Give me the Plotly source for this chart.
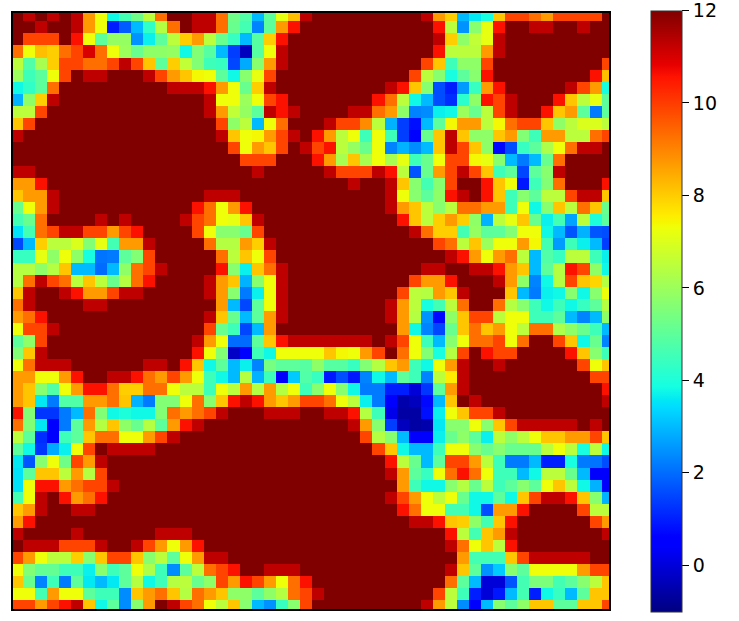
import numpy as np
import plotly.graph_objects as go

# columns 0-24 of every row
left_half = [
    [12,11.3,12,11.3,12,11.3,8.7,7.3,3.8,4.6,5.3,6.5,9.3,12,12,11.3,11.3,9.3,5.3,4.8,3,5,7.2,8.2,11.3],
    [12,12,11.3,12,12,11.3,8.7,7.3,1,1.8,3,4.3,6.4,9.3,12,11.3,11.3,9.3,5.2,4.6,2.3,5,8.7,10.6,12],
    [12,9.9,9.9,9.9,12,10.6,7.3,5,5.9,5.9,2.5,3.7,5,6.5,8,8.7,6.5,5.2,4.4,3,4.9,8,10.6,12,12],
    [9.3,7.3,8.2,8,9.3,9.9,11,9.3,7.3,6,5.2,5.8,5.8,5.9,3.8,5.6,4.9,3,1.4,-0.3,4.9,7.3,11.3,12,12],
    [6.5,4.8,6.2,8,9.9,9.9,9.3,9.3,9.9,11.3,9.9,8.1,5,8,6.6,5.6,4.5,4.4,1.5,2.8,5.7,8.7,11.3,12,12],
    [6,4.5,5,7.3,9.9,12,11.3,11.3,12,12,12,11.3,9.9,8.7,8.1,7.4,7.3,5,3.8,5.7,7.2,9.9,12,12,12],
    [3.8,4.3,5,9.3]+[12]*9+[11.3,11.3,11.3,10.6,8.7,7.3,5.2,8,11.3,12,12,12],
    [2.9,5.8,8,11.3]+[12]*12+[11.3,7.3,7.3,6,7.3,9.9,10.6,12,12],
    [6.5,6.5,9.9]+[12]*13+[11.3,8.7,6.6,5.9,5,11.3,10.6,11.3,12],
    [8.1,9.9]+[12]*15+[9.9,5.8,6.5,3,7.3,9.3,12,12],
    [11.3]+[12]*16+[11.3,8.1,7.3,7.4,8.7,9.9,11.3,12],
    [12]*18+[9.9,7.3,8.7,8.1,9.9,12,11.3],
    [12]*19+[9.9,9.9,9.9,12,12,12],
    [11.3,11.3]+[12]*18+[11.3]+[12]*4,
    [8.7,8.7,10.6]+[12]*22,
    [8.1,8.7,8.7,11.3]+[12]*12+[11.3,11.3,11.3]+[12]*6,
    [5.2,7.3,8.7,11.3]+[12]*11+[10.6,9.3,7.3,8.7,10.6]+[12]*5,
    [4.6,5.2,9.3,12,12,12,12,11.3,12,11.3,12,12,12,12,11.3,9.9,9.3,7.3,7.2,8.1,11.3,12,12,12,12],
    [3.5,4.6,9.3,9.9,11.3,11.3,9.9,9.9,8.7,9.9,10.6,12,12,12,12,9.9,7.3,5.7,5.7,5.2,9.9,12,12,12,12],
    [1.5,3,8,6.5,6.5,7,5.6,7.2,4.6,8.7,8.7,11.3,12,12,12,12,9.3,6.4,6.4,8.7,8,11.3,12,12,12],
    [4.4,4.4,7.2,5.8,7.3,5.8,3.9,2.1,2.2,5,5.6,9.9,12,12,12,12,12,9.3,6.5,8.1,7.3,9.9,12,12,12],
    [6.4,6.4,5.8,6.4,8.1,3,3,2,3,5.8,9.3,9.9,11.3,12,12,12,12,10.6,5.7,3.7,8.1,9.3,11.3,12,12],
    [6.4,9.3,11.3,9.9,9.3,6.5,8.1,6.5,5.2,6.4,9.3,10.6,12,12,12,12,11.3,8.7,8.1,2.9,5.7,7.3,11.3,12,12],
    [8.1,11.3,12,12,11.3,10.6,8.7,8.7,9.9,11.3,11.3,12,12,12,12,12,11.3,8.7,5.7,2.2,3.7,7.3,11.3,12,12],
    [9.3,11.3,12,12,12,12,11.3,11.3]+[12]*9+[8.7,3,1.5,5,7.3,11.3,12,12],
    [8.7,9.3,10.6]+[12]*13+[11.3,8.1,5.2,3,5,8.7,11.3,12,12],
    [7.3,9.9,9.9,11.3]+[12]*12+[9.9,5.2,4.5,1.5,3,8.7,12,12,12],
    [5,5.8,9.9]+[12]*12+[11.3,8.7,7.3,2,2,5,8.1,10.6,11.3,11.3],
    [5.6,8.1,11.3]+[12]*12+[10.6,7.3,5.6,-0.2,0.6,4.5,3.8,7.3,7.3,7.3],
    [7.3,9.3,11.3,11.3,11.3]+[12]*6+[11.3,11.3,12,10.6,8.1,3.8,5,3,3.7,2.3,5.4,5,5,4.9],
    [8.7,8.7,7.3,7.3,8.7,10.6,12,12,11.3,11.3,10.6,9.3,8.7,9.9,8.7,7.3,4.5,3.8,3,6.4,2.9,4.5,0.4,3.2,4.8],
    [8.7,8.1,5.7,4.8,7.3,8.7,10.6,10.6,9.3,8,8,9.3,9.3,7.3,6.5,6.5,4.5,7.3,6.5,8.7,6.4,8.7,6.4,7.3,4.5],
    [8.7,8.1,3.6,2.2,4.8,4.8,8.7,8.7,9.3,8.1,2.9,2.2,5.6,5.6,7.3,9.3,5.7,8.1,10.6,11.3,10.6,8.7,8.1,8.7,9.9],
    [10.6,5.6,1.3,1.3,2.2,3,9.3,5.6,3.8,4,3.8,3.8,5.6,9.3,8.7,9.3,9.9,11.3,12,12,12,11.3,11.3,11.3,12],
    [9.3,5.6,3.6,0.5,2.2,5,8.7,6.4,8.1,5.8,5.2,6.4,5,8.7,10.6,11.3]+[12]*9,
    [6.5,5,1.2,0.5,4.5,5,8.1,9.3,9.3,7.3,7.3,8.7,9.9,11.3]+[12]*11,
    [5,3.8,1.3,2.8,3.7,7.3,9.9,12,11.3,11.3,11.3,11.3]+[12]*13,
    [3.6,1.7,5.7,7.3,5.3,9.9,8.7,11.3]+[12]*17,
    [3.5,5,8.1,8.1,6.5,8.7,6.4,9.9]+[12]*17,
    [3.5,7.3,10.6,10.6,8.7,9.3,9.9,9.9,11.3]+[12]*16,
    [4.6,7.3,11.3,12,10.6,8.7,9.3,10.6]+[12]*17,
    [8.1,8.7,11.3,12,12,11.3,11.3]+[12]*18,
    [8.7,10.6]+[12]*23,
    [11.3,12,12,12,12,11.3]+[12]*6+[11.3,11.3,11.3]+[12]*10,
    [12,11.3,11.3,11.3,9.9,9.9,9.9,11.3,12,12,11.3,9.9,8.7,7.3,8.7,10.6]+[12]*9,
    [9.9,8.7,7.3,6.5,6.5,8,5.7,8.1,9.9,9.9,8.1,5.7,6.5,5,7.3,8.7,11.3,11.3]+[12]*7,
    [7.3,5.6,5.1,5.1,4.5,4.5,3.7,5.7,4.5,5,7.3,6.3,4.5,2.4,5,6.5,9.3,9.9,10.6,12,12,11.3,11.3,11.3,12],
    [8.1,5.2,2.3,4.5,2.2,5,3.6,3,3.6,5,6.4,3.8,4.5,6.4,6.5,5.2,5.8,9.9,8.7,10.6,9.9,8.7,7.3,9.3,10.6],
    [7.3,7.3,4.6,8.7,7.3,7.3,5,4.5,4.5,2.4,8.1,8.7,9.3,8.1,6.4,9.3,8.7,8.1,5.8,5.8,5,5.8,6.4,9.3,9.9],
    [9.9,9.9,8.7,9.9,10.6,11.3,8.1,3.8,5,2.4,5.7,8.7,12,11.3,9.9,9.3,7.3,6.5,8.1,5.7,3,2.5,4.4,5.7,9.9],
]

# columns 25-49 of every row
right_half = [
    [12]*9+[11.3,8.7,8,3,3.6,3.9,8.1,9.9,9.9,9.3,8.7,9.9,9.9,9.9,9.9,12],
    [12]*10+[10.6,6.5,2.5,5.7,7.2,10.6,12,12,11.3,11.3,12,12,11.3,12,12],
    [12]*10+[11.3,8,5.8,6.6,7.2,11.3]+[12]*9,
    [12]*10+[10.6,6.5,6.5,6.5,8.7,11.3]+[12]*9,
    [12]*9+[9.9,8.1,4.5,5.8,5.8,9.9]+[12]*9+[9.9],
    [12]*8+[9.9,6.5,5.7,3.9,5,5.7,10.6]+[12]*8+[10.6,8.2],
    [12]*6+[11.3,10.6,8.1,5.7,1.6,1,2.6,4.4,8.7,10.6]+[12]*5+[11.3,9.9,8.7,3.9],
    [12]*5+[10.6,9.3,6.5,3.8,3,1.6,1.2,4.2,5.8,10.6,9.9,11.3]+[12]*3+[10.6,8.1,6.5,7.2,5],
    [12]*3+[11.3,11.3,9.3,8.7,5.8,2.3,2.4,3.7,3.8,6,5.2,6.5,9.9,11.3,12,12,10.6,8.1,8.7,5,2.2,5],
    [12,11.3,9.9,9.9,8.9,6.5,2.9,1.4,0.8,3,5,7.4,8.7,8.7,6.5,7.4,9.3,9.9,9.9,8.1,5.8,6.5,7,7,6.5],
    [10.6,8.7,6.5,7.3,4.5,7.3,4.5,1.4,0.6,5.2,8.1,11.3,8.1,5.8,5.8,8.1,8.7,5.6,4.5,8.7,8.7,6.5,6.5,9.3,9.9],
    [9.9,10.6,6.5,5.9,5.2,7.3,2.3,2.9,2.4,3,8.1,11.3,9.9,8.1,5.8,0.7,1.6,4.4,5,6.3,7.3,9.3,11.3,11.3,12],
    [10.6,8.7,6.2,8.1,6.2,7.3,6.2,7.2,4.5,5.2,7.3,9.9,9.9,7.4,7.2,5.7,3,2.2,3,5.2,9.3]+[12]*4,
    [12,11.3,9.9,9.9,9.9,11.3,10.6,6.5,1.7,5.2,8.7,9.9,11.3,9.9,8.1,4.5,5,1.5,5,5.7,11.3]+[12]*4,
    [12,12,12,11.3,12,12,11.3,8.1,5.7,4.6,5.7,9.9,12,12,10.6,8.1,7.3,0.9,4.5,5.6,9.3,12,12,12,10.6],
    [12]*6+[11.3,7.3,5.7,5,5.8,10.6,11.3,12,10.6,8.1,4.5,5.7,5,6.5,6.5,9.9,11.3,11.3,8.1],
    [12]*6+[11.3,8.7,8.1,6.5,5.7,6.5,9.3,9.3,8.7,8.7,4.5,7.3,3.8,5.7,8.1,6.5,9.3,8.1,5.2],
    [12]*7+[10.6,8.1,6.5,8,8.7,8,5.8,2.9,6.5,7.2,8.1,5.2,3.7,4.6,2.7,6.5,4,5],
    [12]*8+[11.3,9.3,8,8,4.6,5.9,5,5,5.6,7.3,7.3,3.8,3,1.7,2.9,1.7,1.6],
    [12]*10+[9.9,9.3,6.5,8.1,6,7.3,7.3,8.7,7.4,4.6,2.6,4.5,3.7,3,1.4],
    [12]*11+[11.3,10.6,8.7,7.3,8.7,9.3,6.5,3,4.8,4.4,6.5,6.5,4.5,3.7],
    [12]*9+[11.3,11.3,12,12,11.3,11.3,10.6,8.7,8.1,3,5,6.4,10.6,9.9,5.8,3.8],
    [12]*8+[9.9,8.7,8.7,10.6,12,12,12,11.3,8.7,5.8,2.3,3.8,6.4,9.9,8.1,7.9,6.4],
    [12]*7+[9.9,6.5,6.4,8.7,8.1,11.3,12,12,12,8.1,3,2.2,3.7,3.8,5.7,3.8,5.7,7.3],
    [12]*6+[11.3,8.7,6.5,3.9,4.6,6.5,9.3,12,12,9.3,6.4,5.7,4.5,3.8,4.5,3.8,4.4,5,6.4],
    [12]*6+[11.3,8.7,6.4,2.5,0.7,5.8,8.1,9.9,9.9,6.5,7.3,7.3,4.5,4.5,5,3,2.3,3,5.8],
    [12]*7+[8.7,3.8,2.3,1.5,5.2,8.1,9.3,8.1,8.7,7.3,6.5,9.3,9.3,6.3,5.8,5.2,4.5,3],
    [11.3]*5+[12,11.3,9.9,7.3,4.5,3,5.7,7.3,9.3,9.3,9.9,7.3,9.3,12,12,9.9,8.1,3.8,5.2,2.3],
    [7.3,8.1,7.4,7.3,8.7,9.9,12,9.3,7.3,5.6,3.9,6.4,9.9,12,10.6,9.9,9.9,12,12,12,12,10.6,8.1,5.7,4.5],
    [5.8,4.9,4.9,4.4,5.6,6.4,8.1,8.7,4.5,3.8,7.3,8.7,11.3,12,12,11.3]+[12]*6+[9.9,7.3,8.1],
    [4.4,0.9,1.6,0.9,2.3,3.8,3,5,4.5,2.3,6.5,7.6,11.3]+[12]*10+[9.9,9.9],
    [5.7,7.3,5.7,3.8,2.2,2.2,1,1,0,1.3,5,8.7,11.3]+[12]*11+[10.6],
    [9.9,9.3,7.3,6.5,3.7,2.2,0.5,-0.5,-0.3,0.7,3,8.1,12,11.3]+[12]*10+[11.3],
    [12,11.3,11.3,10.6,6.4,4.5,0.2,-0.6,-0.6,0.8,3.7,7.3,8.1,9.9,9.9,11.3]+[12]*9,
    [12,12,12,11.3,8.7,5.7,1.4,-0.3,-0.6,-0.5,3.6,5.7,5.7,7.3,5.7,8.1,9.9,11.3,11.3,11.3,11.3,11.3,12,11.3,12],
    [12,12,12,12,9.9,6.4,5.7,3,0.4,0.6,3.7,5.2,5.8,5,3.7,6.5,5.8,6.5,7.3,8.1,8.1,8.7,8.7,9.9,8.1],
    [12]*5+[9.9,8.1,3.8,3,3,4.5,7.3,7.3,5.7,5.2,5.7,5.2,5.2,5.2,6.5,7.3,6.5,3.9,6.5,3.8],
    [12]*6+[10.6,6.5,5.2,3,5,9.9,9.9,8.7,6.5,4.5,2.2,2.2,3,1,1,3.9,2.2,2.1,1.6],
    [12]*6+[11.3,8.7,5,4.4,7.3,9.3,10.6,9.3,7.3,4.5,4.5,3,3.8,6.5,6.5,5.2,3,0.4,0.4],
    [12]*7+[8.7,4.5,3.8,3.8,5.7,6.4,5.2,6.5,4.5,5,5.7,5,7.3,8.1,6.5,3.8,2.9,0.4],
    [12]*6+[11.3,9.9,8.7,7.3,6.5,7.3,5.2,3.8,3.8,5,3.8,8.1,9.9,11.3,11.3,10.6,8.1,5.7,2.9],
    [12]*7+[10.6,9.3,7.3,7.3,4.6,4.6,3.8,1.6,8.7,8.7,10.6,12,12,12,12,9.9,6.5,6.5],
    [12]*8+[11.3,11.3,10.6,8.1,8,5.8,4.6,8.1,10.6]+[12]*6+[9.9,8.7],
    [12]*11+[10.6,6.5,4.6,8.1,8.7,11.3]+[12]*7+[11.3],
    [12]*11+[11.3,9.3,7.3,8.1,6.5,10.6]+[12]*8,
    [12]*12+[8.7,4.6,4.6,4.6,8.1,9.9,11.3,11.3,11.3,11.3,11.3,12,12],
    [12]*11+[11.3,8.1,5,2.5,3.2,5.7,5,7.3,7.3,7.3,7.3,8.7,9.9,9.9],
    [12]*11+[9.3,5,3,0,0,1.7,4.6,5.5,5.5,4.6,5,5.7,6.5,8.1],
    [11.3]+[12]*9+[9.9,6.5,4.5,1,0,0.9,3,4.6,1,3.8,4.4,3,5,8.1,8.1],
    [12]*9+[11.3,8.7,6.5,2.4,0.5,3,5.7,5,5.8,8.1,8.1,5,5,8.1,8.1,9.9],
]

bar_ticks = [0, 2, 4, 6, 8, 10, 12]

bad = [i for i in range(50) if len(left_half[i]) != 25 or len(right_half[i]) != 25]
assert not bad, f"bad rows {bad}"

z = np.hstack([np.array(left_half), np.array(right_half)])

# same breakpoints as the usual jet map
stops = [0, 0.11, 0.125, 0.34, 0.35, 0.375, 0.64, 0.65, 0.66, 0.89, 0.91, 1]
jet = []
for s in stops:
    r = np.interp(s, [0, 0.35, 0.66, 0.89, 1], [0, 0, 1, 1, 0.5])
    g = np.interp(s, [0, 0.125, 0.375, 0.64, 0.91, 1], [0, 0, 1, 1, 0, 0])
    b = np.interp(s, [0, 0.11, 0.34, 0.65, 1], [0.5, 1, 1, 0, 0])
    jet.append([s, f"rgb({r*255:.0f},{g*255:.0f},{b*255:.0f})"])

fig = go.Figure()
fig.add_trace(go.Heatmap(
    z=z,
    zmin=-1,
    zmax=12,
    colorscale=jet,
    colorbar=dict(
        x=1.0705,
        xanchor="left",
        xpad=0,
        ypad=0,
        y=0.5,
        yanchor="middle",
        len=601,
        lenmode="pixels",
        thickness=31,
        thicknessmode="pixels",
        outlinewidth=1,
        outlinecolor="#333333",
        tickvals=bar_ticks,
        ticks="outside",
        ticklen=7,
        tickwidth=1.3,
        tickcolor="black",
        tickprefix="\u00a0",
        ticklabeloverflow="allow",
        tickfont=dict(family="DejaVu Sans", size=19, color="black"),
    ),
))

fig.update_xaxes(range=[-0.307, 49.15], showticklabels=False, ticks="", showgrid=False,
                 zeroline=False, showline=True, linecolor="black", linewidth=2, mirror=True)
fig.update_yaxes(range=[49.19, -0.19], showticklabels=False, ticks="", showgrid=False,
                 zeroline=False, showline=True, linecolor="black", linewidth=2, mirror=True)

fig.update_layout(
    width=739,
    height=621,
    margin=dict(l=13, r=130, t=13, b=12),
    paper_bgcolor="white",
    plot_bgcolor="white",
)

# page margin would push the 12 label off the top of the figure
fig.write_html("out.html", config={"displayModeBar": False},
               post_script="document.body.style.margin = '0';")
